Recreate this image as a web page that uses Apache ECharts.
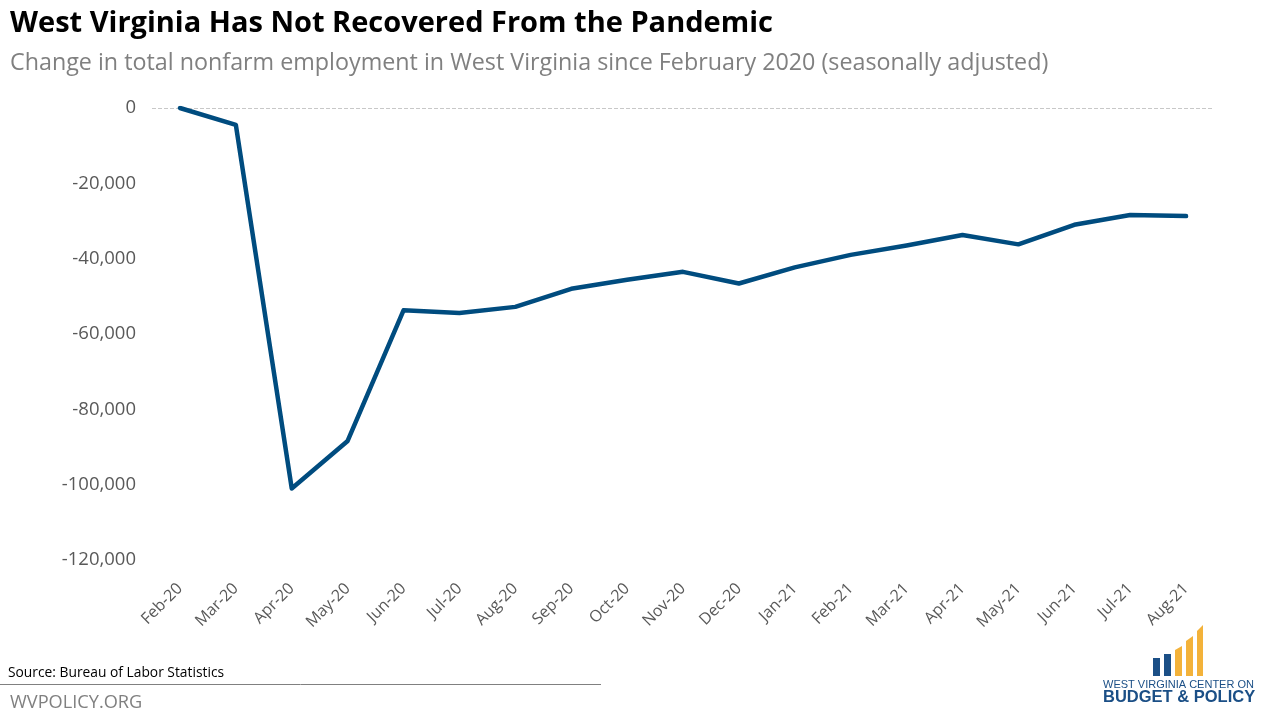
<!DOCTYPE html>
<html><head><meta charset="utf-8">
<script src="https://cdn.jsdelivr.net/npm/echarts@6/dist/echarts.min.js"></script>
<style>html,body{margin:0;padding:0;background:#fff}#c{width:1280px;height:720px}</style>
</head><body><div id="c"></div>
<script>
var months = ['Feb-20','Mar-20','Apr-20','May-20','Jun-20','Jul-20','Aug-20','Sep-20','Oct-20','Nov-20','Dec-20','Jan-21','Feb-21','Mar-21','Apr-21','May-21','Jun-21','Jul-21','Aug-21'];
var jobChange = [0,-4500,-101000,-88400,-53700,-54400,-52800,-48000,-45600,-43500,-46600,-42300,-39000,-36500,-33700,-36200,-31000,-28400,-28700];
var yTicks = [0,-20000,-40000,-60000,-80000,-100000,-120000];

var chart = echarts.init(document.getElementById('c'));
var font = '"Open Sans", "Noto Sans", sans-serif';
chart.setOption({
  animation:false,
  textStyle:{fontFamily:font},
  grid:{left:152,right:66,top:108,bottom:160},
  xAxis:{type:'category',data:months,boundaryGap:true,
    axisLine:{show:false},axisTick:{show:false},
    axisLabel:{rotate:45,color:'#595959',fontSize:16,margin:26,interval:0,fontFamily:font}},
  yAxis:{type:'value',min:-120000,max:0,interval:20000,
    splitLine:{show:false},axisLine:{show:false},axisTick:{show:false},
    axisLabel:{color:'#595959',fontSize:18.5,margin:16,fontFamily:font,
      formatter:function(v){return v===0?'0':(v<0?'-':'')+Math.abs(v).toLocaleString('en-US');}}},
  series:[{type:'line',data:jobChange,symbol:'none',
    lineStyle:{color:'#004c7f',width:4.5,cap:'round',join:'round'},
    markLine:{silent:true,symbol:'none',label:{show:false},
      lineStyle:{color:'#c8c8c8',type:'dashed',width:1},
      data:[{yAxis:yTicks[0]}], z:1}}],
  graphic:[
    {type:'text',left:10,top:9,style:{text:'West Virginia Has Not Recovered From the Pandemic',font:'bold 29px '+font,fill:'#000'}},
    {type:'text',left:10,top:52,style:{text:'Change in total nonfarm employment in West Virginia since February 2020 (seasonally adjusted)',font:'23.3px '+font,fill:'#808080'}},
    {type:'text',left:8,top:666,style:{text:'Source: Bureau of Labor Statistics',font:'13.8px '+font,fill:'#000'}},
    {type:'line',shape:{x1:0,y1:684.5,x2:601,y2:684.5},style:{stroke:'#808080',lineWidth:1}},
    {type:'text',left:10,top:694,style:{text:'WVPOLICY.ORG',font:'18.2px '+font,fill:'#808080'}},
    {type:'rect',shape:{x:1153,y:658,width:7,height:18},style:{fill:'#1b4f86'}},
    {type:'rect',shape:{x:1164,y:654,width:7,height:22},style:{fill:'#1b4f86'}},
    {type:'polygon',shape:{points:[[1175,650],[1182,646],[1182,676],[1175,676]]},style:{fill:'#f3b23a'}},
    {type:'polygon',shape:{points:[[1186,641],[1193,636],[1193,676],[1186,676]]},style:{fill:'#f3b23a'}},
    {type:'polygon',shape:{points:[[1197,631],[1203,625],[1203,676],[1197,676]]},style:{fill:'#f3b23a'}},
    {type:'text',left:1103,top:679,style:{text:'WEST VIRGINIA CENTER ON',font:'11px "Liberation Sans", sans-serif',fill:'#1b4f86'}},
    {type:'text',left:1103,top:689,style:{text:'BUDGET & POLICY',font:'bold 16.5px "Liberation Sans", sans-serif',fill:'#1b4f86'}}
  ]
});
</script></body></html>
